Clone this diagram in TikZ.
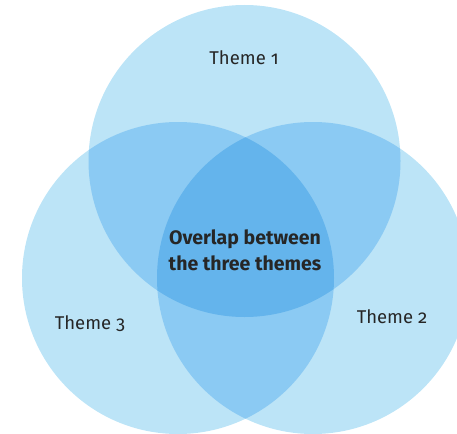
\documentclass[tikz,border=0pt]{standalone}
\usepackage{fontspec}
\setmainfont{Fira Sans}[Numbers=OldStyle]
\begin{document}
\begin{tikzpicture}[x=1pt,y=-1pt,
  lbl/.style={text=black!85, font=\fontsize{18.5}{22}\selectfont, inner sep=0pt},
  boldlbl/.style={text=black!85, font=\fontsize{19.5}{26}\bfseries\selectfont, align=center, inner sep=0pt}]
\definecolor{vlight}{HTML}{BCE4F7}
\definecolor{vmid}{HTML}{8BCAF3}
\definecolor{vdark}{HTML}{64B4EC}
\useasboundingbox (0,0) rectangle (457,433);
\def\R{156}
\coordinate (c1) at (244.5,161);
\coordinate (c2) at (313,278);
\coordinate (c3) at (178,278);
\begin{scope}
\clip (0,0) rectangle (457,433);
\fill[vlight] (c1) circle (\R);
\fill[vlight] (c2) circle (\R);
\fill[vlight] (c3) circle (\R);
\begin{scope}\clip (c1) circle (\R); \fill[vmid] (c2) circle (\R); \end{scope}
\begin{scope}\clip (c1) circle (\R); \fill[vmid] (c3) circle (\R); \end{scope}
\begin{scope}\clip (c2) circle (\R); \fill[vmid] (c3) circle (\R); \end{scope}
\begin{scope}\clip (c1) circle (\R); \clip (c2) circle (\R); \fill[vdark] (c3) circle (\R); \end{scope}
\end{scope}
\node[lbl] (t1) at (244,58) {Theme 1};
\node[lbl] (t2) at (392,317) {Theme 2};
\node[lbl] (t3) at (90,324) {Theme 3};
\node[boldlbl] (ov) at (245,250) {Overlap between\\the three themes};
\end{tikzpicture}
\end{document}
